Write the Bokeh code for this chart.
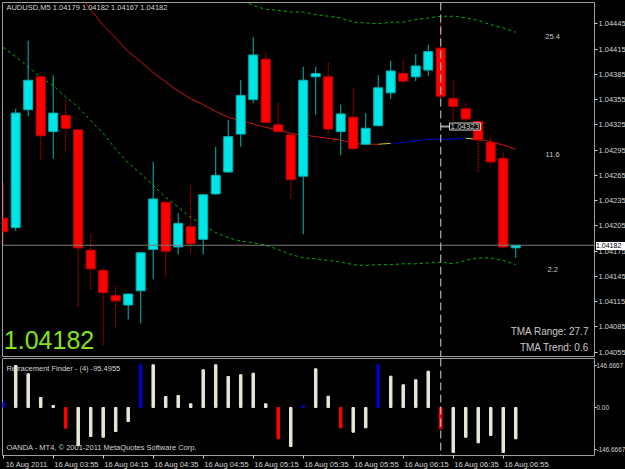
from bokeh.plotting import figure
from bokeh.models import (Range1d, FixedTicker, PrintfTickFormatter, LinearAxis, Span, Label,
                          ColumnDataSource, Div)
from bokeh.layouts import column
from bokeh.embed import file_html
from bokeh.resources import INLINE

# ---------------- data ----------------
symbol = "AUDUSD,M5"
bars = list(range(42))
opens = [1.04214, 1.04203, 1.04343, 1.04382, 1.04317, 1.04336, 1.04319, 1.04176, 1.04152, 1.04122,
         1.04111, 1.04128, 1.04177, 1.04233, 1.04180, 1.04204, 1.04189, 1.04243, 1.04269, 1.04314,
         1.04355, 1.04403, 1.04325, 1.04313, 1.04264, 1.04382, 1.04382, 1.04317, 1.04334, 1.04302,
         1.04324, 1.04363, 1.04386, 1.04382, 1.04390, 1.04416, 1.04356, 1.04344, 1.04329, 1.04304,
         1.04285, 1.04179]
highs = [1.04257, 1.04344, 1.04425, 1.04383, 1.04384, 1.04356, 1.04320, 1.04195, 1.04155, 1.04134,
         1.04125, 1.04174, 1.04281, 1.04235, 1.04220, 1.04254, 1.04243, 1.04299, 1.04331, 1.04378,
         1.04429, 1.04411, 1.04351, 1.04314, 1.04394, 1.04394, 1.04399, 1.04349, 1.04369, 1.04339,
         1.04384, 1.04401, 1.04403, 1.04409, 1.04420, 1.04447, 1.04378, 1.04352, 1.04330, 1.04312,
         1.04292, 1.04182]
lows = [1.04184, 1.04199, 1.04335, 1.04283, 1.04285, 1.04294, 1.04109, 1.04130, 1.04064, 1.04085,
        1.04094, 1.04089, 1.04142, 1.04145, 1.04171, 1.04173, 1.04171, 1.04242, 1.04268, 1.04299,
        1.04351, 1.04327, 1.04316, 1.04238, 1.04195, 1.04337, 1.04314, 1.04289, 1.04296, 1.04301,
        1.04323, 1.04356, 1.04374, 1.04377, 1.04383, 1.04357, 1.04330, 1.04330, 1.04269, 1.04276,
        1.04179, 1.04167]
closes = [1.04198, 1.04339, 1.04378, 1.04312, 1.04339, 1.04321, 1.04179, 1.04154, 1.04126, 1.04116,
          1.04124, 1.04173, 1.04237, 1.04175, 1.04208, 1.04184, 1.04242, 1.04265, 1.04311, 1.04360,
          1.04408, 1.04328, 1.04317, 1.04260, 1.04378, 1.04386, 1.04320, 1.04338, 1.04297, 1.04321,
          1.04369, 1.04389, 1.04377, 1.04395, 1.04412, 1.04359, 1.04347, 1.04332, 1.04307, 1.04281,
          1.04180, 1.04182]

# TMA centre line (bars 6..41) and trend state of the segment starting at each bar
tma_bars = list(range(6, 42))
tma_mid = [1.04481, 1.04462, 1.04443, 1.04428, 1.04412, 1.04400, 1.04387, 1.04376, 1.04365, 1.04356,
           1.04349, 1.04341, 1.04334, 1.04330, 1.04326, 1.04322, 1.04319, 1.04315, 1.04313, 1.04311,
           1.04309, 1.04307, 1.04303, 1.04302, 1.04302, 1.04303, 1.04304, 1.04306, 1.04308, 1.04308,
           1.04308, 1.04309, 1.04308, 1.04305, 1.04301, 1.04296]
tma_state = ["down"] * 24 + ["flat"] + ["up"] * 6 + ["flat"] + ["down"] * 3

# TMA bands
lower_bars = list(range(42))
tma_lower = [1.04417, 1.04406, 1.04394, 1.04381, 1.04372, 1.04358, 1.04346, 1.04330, 1.04315, 1.04296,
             1.04280, 1.04267, 1.04253, 1.04239, 1.04227, 1.04215, 1.04206, 1.04197, 1.04191, 1.04187,
             1.04185, 1.04182, 1.04177, 1.04171, 1.04167, 1.04166, 1.04164, 1.04162, 1.04159, 1.04158,
             1.04159, 1.04159, 1.04160, 1.04160, 1.04161, 1.04162, 1.04160, 1.04164, 1.04167, 1.04167,
             1.04164, 1.04159]
upper_bars = list(range(17, 42))
tma_upper = [1.04485, 1.04477, 1.04473, 1.04467, 1.04462, 1.04461, 1.04459, 1.04459, 1.04456, 1.04454,
             1.04452, 1.04447, 1.04446, 1.04445, 1.04447, 1.04447, 1.04450, 1.04452, 1.04454, 1.04454,
             1.04452, 1.04449, 1.04444, 1.04440, 1.04435]

band_texts = ["25.4", "11.6", "2.2"]
band_text_prices = [1.04430, 1.04290, 1.04153]
tma_range = 27.7
tma_trend = 0.6

# Retracement Finder oscillator
osc_values = [18.5, 146.7, 117.7, 35.0, 7.0, -72.3, -132.7, -101.3, -103.7, -83.8,
              -48.9, 149.0, 149.0, 38.4, 41.9, 12.9, 131.6, 149.0, 108.3, 114.2,
              119.8, 12.9, -109.3, -136.2, 7.0, 135.1, 39.5, -70.9, -86.3, -70.9,
              149.0, 109.3, 79.3, 96.7, 126.8, -74.4, -157.0, -103.7, -123.3, -97.8,
              -157.0, -109.3]
osc_signal = ["b", "w", "w", "w", "w", "r", "w", "w", "w", "w",
              "w", "b", "w", "w", "w", "w", "w", "w", "w", "w",
              "w", "w", "r", "w", "b", "w", "w", "r", "w", "w",
              "b", "w", "w", "w", "w", "r", "w", "w", "w", "w",
              "w", "w"]
osc_title = "Retracement Finder - (4) -95.4955"
osc_levels = [146.6667, 0.0, -146.6667]
osc_level_labels = ["146.6667", "0.00", "-146.6667"]

price_ticks = [1.04055, 1.04085, 1.04115, 1.04145, 1.04175, 1.04205, 1.04235, 1.04265,
               1.04295, 1.04325, 1.04355, 1.04385, 1.04415, 1.04445]
time_tick_bars = [0, 4, 8, 12, 16, 20, 24, 28, 32, 36, 40]
time_labels = ["16 Aug 2011", "16 Aug 03:55", "16 Aug 04:15", "16 Aug 04:35", "16 Aug 04:55",
               "16 Aug 05:15", "16 Aug 05:35", "16 Aug 05:55", "16 Aug 06:15", "16 Aug 06:35",
               "16 Aug 06:55"]

cross_bar = 35
cross_price = 1.04323
copyright_text = "OANDA - MT4, \u00a9 2001-2011 MetaQuotes Software Corp."

# ---------------- style ----------------
FONT = "Liberation Sans"
BG = "#000000"
FG = "#d4d4d4"
FRAME = "#a0a0a0"
BULL = "#00e6e6"
BULL_WICK = "#00b8b8"
BEAR = "#ff0000"
SIG_COLORS = {"b": "#0000c8", "r": "#ff0000", "w": "#e6e6d6"}
TREND_COLORS = {"down": "#cc1414", "flat": "#d0d000", "up": "#0000cc"}

x_range = Range1d(-0.056, 47.30)

# ---------------- main chart ----------------
p = figure(frame_width=592, frame_height=354, x_range=x_range,
           y_range=Range1d(1.040499, 1.044703),
           output_backend="svg", toolbar_location=None,
           x_axis_location=None, y_axis_location="right",
           min_border_left=2, min_border_top=2, min_border_bottom=2, min_border_right=31,
           background_fill_color=BG, border_fill_color=BG, outline_line_color=FRAME)
p.xgrid.visible = False
p.ygrid.visible = False
ya = p.yaxis[0]
ya.ticker = FixedTicker(ticks=price_ticks)
ya.formatter = PrintfTickFormatter(format="%.5f")
ya.major_label_text_font = FONT
ya.major_label_text_font_size = "7.5px"
ya.major_label_text_color = FG
ya.major_tick_line_color = FG
ya.major_tick_out = 3
ya.major_tick_in = 0
ya.minor_tick_line_color = None
ya.axis_line_color = None
ya.major_label_standoff = 1

bull = [i for i in bars if closes[i] >= opens[i]]
bear = [i for i in bars if closes[i] < opens[i]]


def sub(idx):
    return ColumnDataSource(dict(
        x=[bars[i] for i in idx],
        high=[highs[i] for i in idx],
        low=[lows[i] for i in idx],
        top=[max(opens[i], closes[i]) for i in idx],
        bottom=[min(opens[i], closes[i]) for i in idx],
    ))


sb, sr = sub(bull), sub(bear)

# bands and TMA line
p.line(x=lower_bars, y=tma_lower, line_color="#00b400", line_dash="3 3", line_width=1)
p.line(x=upper_bars, y=tma_upper, line_color="#00b400", line_dash="3 3", line_width=1)
p.segment(x0=tma_bars[:-1], y0=tma_mid[:-1], x1=tma_bars[1:], y1=tma_mid[1:],
          line_color=[TREND_COLORS[s] for s in tma_state], line_width=1)

last_close = closes[-1]
p.add_layout(Span(location=last_close, dimension="width", line_color="#7a7a7a", line_width=1))
p.add_layout(Span(location=cross_bar, dimension="height", line_color="#cfcfcf",
                  line_dash="8 4", line_width=1))

# candles
p.segment(x0="x", y0="low", x1="x", y1="high", source=sb, line_color=BULL_WICK, line_width=1)
p.segment(x0="x", y0="low", x1="x", y1="high", source=sr, line_color=BEAR, line_width=1,
          line_dash="1 1")
p.vbar(x="x", width=0.72, top="top", bottom="bottom", source=sb, fill_color=BULL,
       line_color="#00b0b0", line_width=1)
p.vbar(x="x", width=0.72, top="top", bottom="bottom", source=sr, fill_color=BEAR,
       line_color="#c80000", line_width=1)

# crosshair price marker
p.segment(x0=[cross_bar], y0=[cross_price], x1=[cross_bar + 0.7], y1=[cross_price],
          line_color="#a0a0a0", line_width=2)
p.add_layout(Label(x=cross_bar + 0.7, y=cross_price, text=f"{cross_price:.5f}",
                   text_font=FONT, text_font_size="8px", text_color="#d0d0d0",
                   text_baseline="middle", text_align="left",
                   background_fill_color=BG, border_line_color="#d8d8d8", padding=1))

# texts
o, h, l, c = opens[-1], highs[-1], lows[-1], closes[-1]
p.add_layout(Label(x=0.26, y=1.044638, text=f"{symbol}  {o:.5f} {h:.5f} {l:.5f} {c:.5f}",
                   text_font=FONT, text_font_size="7.5px", text_color=FG,
                   text_baseline="middle"))
for t, yv in zip(band_texts, band_text_prices):
    p.add_layout(Label(x=43.95, y=yv, text=t, text_font=FONT, text_font_size="7.5px",
                       text_color="#c8c8c8", text_align="center", text_baseline="middle"))
p.add_layout(Label(x=0.05, y=1.040692, text=f"{last_close:.5f}", text_font=FONT,
                   text_font_size="25px", text_color="#84e11b", text_baseline="middle"))
p.add_layout(Label(x=46.86, y=1.040796, text=f"TMA Range: {tma_range}", text_font=FONT,
                   text_font_size="10px", text_color="#c8c8c8", text_align="right",
                   text_baseline="middle"))
p.add_layout(Label(x=46.86, y=1.040606, text=f"TMA Trend: {tma_trend}", text_font=FONT,
                   text_font_size="10px", text_color="#c8c8c8", text_align="right",
                   text_baseline="middle"))

# ---------------- oscillator panel ----------------
q = figure(frame_width=592, frame_height=97, x_range=x_range, y_range=Range1d(-167.6, 171.1),
           output_backend="svg", toolbar_location=None,
           x_axis_location=None, y_axis_location="right",
           min_border_left=2, min_border_top=0, min_border_bottom=0, min_border_right=31,
           background_fill_color=BG, border_fill_color=BG, outline_line_color=FRAME)
q.xgrid.visible = False
q.ygrid.visible = False
qa = q.yaxis[0]
qa.ticker = FixedTicker(ticks=osc_levels)
qa.major_label_overrides = {lv: lt for lv, lt in zip(osc_levels, osc_level_labels)}
qa.major_label_text_font = FONT
qa.major_label_text_font_size = "6.4px"
qa.major_label_text_color = FG
qa.major_label_standoff = 0
qa.major_tick_line_color = FG
qa.major_tick_out = 2
qa.major_tick_in = 0
qa.minor_tick_line_color = None
qa.axis_line_color = None

q.vbar(x=bars, width=0.2, top=osc_values, bottom=0,
       fill_color=[SIG_COLORS[s] for s in osc_signal],
       line_color=[SIG_COLORS[s] for s in osc_signal])
q.add_layout(Span(location=cross_bar, dimension="height", line_color="#cfcfcf",
                  line_dash="8 4", line_width=1))
q.add_layout(Label(x=0.26, y=137.9, text=osc_title, text_font=FONT, text_font_size="7.5px",
                   text_color=FG, text_baseline="middle"))
q.add_layout(Label(x=0.26, y=-139.7, text=copyright_text, text_font=FONT,
                   text_font_size="7.5px", text_color=FG, text_baseline="middle"))

label_ticks = [b + 1.875 for b in time_tick_bars]
label_axis = LinearAxis(ticker=FixedTicker(ticks=label_ticks, minor_ticks=time_tick_bars),
                        major_label_overrides={t: s for t, s in zip(label_ticks, time_labels)},
                        major_label_text_font=FONT, major_label_text_font_size="7.5px",
                        major_label_text_color=FG, major_label_standoff=1,
                        major_tick_line_color=None, major_tick_out=0, major_tick_in=0,
                        minor_tick_line_color=FG, minor_tick_out=3, minor_tick_in=0,
                        axis_line_color=None)
q.add_layout(label_axis, "below")

# current price box on the price scale (HTML overlay at the axis position)
price_box = Div(text=f"{last_close:.5f}", width=31, height=8,
                styles={"position": "absolute", "left": "591px", "top": "237px",
                        "background-color": "#ffffff", "color": "#000000",
                        "font-family": FONT, "font-size": "7px", "line-height": "8px",
                        "padding": "0px", "text-align": "left",
                        "white-space": "nowrap", "overflow": "visible", "z-index": "10"})

layout = column(p, q, price_box, spacing=0,
                styles={"background-color": "#000000", "position": "relative"})
open("out.html", "w").write(file_html(layout, INLINE))
